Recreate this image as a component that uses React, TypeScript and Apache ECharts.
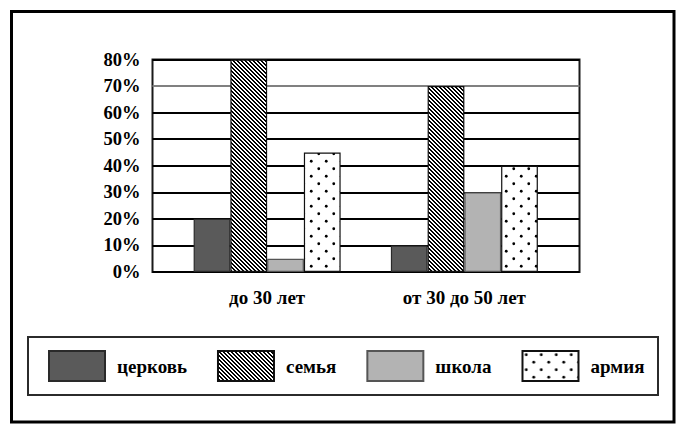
import React, { useEffect, useRef } from "react";
import * as echarts from "echarts";

const categories = ["до 30 лет", "от 30 до 50 лет"];
const seriesNames = ["церковь", "семья", "школа", "армия"];
const church = [20, 10];
const family = [80, 70];
const school = [5, 30];
const army = [45, 40];
const yMin = 0;
const yMax = 80;
const yStep = 10;

const FONT = '"Liberation Serif", "DejaVu Serif", serif';

function hatchPattern() {
  const size = 4;
  const c = document.createElement("canvas");
  c.width = size;
  c.height = size;
  const ctx = c.getContext("2d")!;
  const img = ctx.createImageData(size, size);
  for (let y = 0; y < size; y++) {
    for (let x = 0; x < size; x++) {
      const on = (((x - y) % size) + size) % size < 2;
      const i = (y * size + x) * 4;
      const v = on ? 0 : 255;
      img.data[i] = v;
      img.data[i + 1] = v;
      img.data[i + 2] = v;
      img.data[i + 3] = 255;
    }
  }
  ctx.putImageData(img, 0, 0);
  return { image: c, repeat: "repeat", imageWidth: size, imageHeight: size };
}

function dotPattern() {
  const size = 15;
  const c = document.createElement("canvas");
  c.width = size;
  c.height = size;
  const ctx = c.getContext("2d")!;
  ctx.fillStyle = "#fff";
  ctx.fillRect(0, 0, size, size);
  ctx.fillStyle = "#000";
  const pts = [
    [3.75, 3.75],
    [11.25, 11.25],
  ];
  for (const [x, y] of pts) {
    ctx.beginPath();
    ctx.arc(x, y, 1.4, 0, Math.PI * 2);
    ctx.fill();
  }
  return { image: c, repeat: "repeat", imageWidth: size, imageHeight: size };
}

export default function App() {
  const ref = useRef<HTMLDivElement>(null);

  useEffect(() => {
    if (!ref.current) return;
    const chart = echarts.init(ref.current, undefined, { renderer: "svg" });

    const fills = ["#5a5a5a", hatchPattern(), "#b3b3b3", dotPattern()];
    const borders = ["#2a2a2a", "#111", "#555", "#111"];
    const values = [church, family, school, army];

    const gridLineColors: string[] = [];
    for (let v = yMin; v <= yMax; v += yStep) {
      gridLineColors.push(v === 70 ? "#808080" : "#000");
    }

    const option: any = {
      animation: false,
      backgroundColor: "#fff",
      textStyle: { fontFamily: FONT },
      grid: [
        {
          left: 152.5,
          right: 104.5,
          top: 59.5,
          bottom: 158,
          show: true,
          borderColor: "#1a1a1a",
          borderWidth: 2,
          backgroundColor: "#fff",
        },
        {
          left: 168.5,
          right: 121,
          top: 59.5,
          bottom: 158,
        },
      ],
      xAxis: [
        { type: "value", gridIndex: 0, min: 0, max: 1, show: false },
        {
          type: "category",
          gridIndex: 1,
          data: categories,
          axisLine: { show: false },
          axisTick: { show: false },
          axisLabel: {
            fontFamily: FONT,
            fontSize: 19,
            fontWeight: "bold",
            color: "#000",
            margin: 16,
          },
        },
      ],
      yAxis: [
        {
          type: "value",
          gridIndex: 0,
          min: yMin,
          max: yMax,
          interval: yStep,
          axisLine: { show: false },
          axisTick: { show: false },
          axisLabel: {
            formatter: "{value}%",
            fontFamily: FONT,
            fontSize: 18.5,
            fontWeight: "bold",
            color: "#000",
            margin: 12,
          },
          splitLine: {
            show: true,
            lineStyle: { color: gridLineColors, width: 2 },
          },
        },
        {
          type: "value",
          gridIndex: 1,
          min: yMin,
          max: yMax,
          interval: yStep,
          show: false,
        },
      ],
      legend: {
        data: seriesNames,
        left: 48,
        top: 350,
        orient: "horizontal",
        icon: "rect",
        itemWidth: 56,
        itemHeight: 30,
        itemGap: 30,
        padding: 0,
        textStyle: {
          fontFamily: FONT,
          fontSize: 19,
          fontWeight: "bold",
          color: "#000",
          padding: [0, 0, 0, 7],
        },
      },
      graphic: [
        {
          type: "rect",
          shape: { x: 11.5, y: 11.5, width: 662.5, height: 410.5 },
          style: { fill: "none", stroke: "#000", lineWidth: 3 },
          silent: true,
        },
        {
          type: "rect",
          shape: { x: 28, y: 337, width: 630, height: 58 },
          style: { fill: "none", stroke: "#2b2b2b", lineWidth: 2 },
          silent: true,
        },
      ],
      series: seriesNames.map((name, i) => ({
        name,
        type: "bar",
        xAxisIndex: 1,
        yAxisIndex: 1,
        data: values[i],
        barWidth: 36.75,
        barGap: "0%",
        itemStyle: {
          color: fills[i],
          borderColor: borders[i],
          borderWidth: 1.2,
        },
      })),
    };

    chart.setOption(option);
    return () => chart.dispose();
  }, []);

  return (
    <div
      ref={ref}
      style={{
        position: "absolute",
        left: 0,
        top: 0,
        width: 684,
        height: 430,
        background: "#fff",
      }}
    />
  );
}
